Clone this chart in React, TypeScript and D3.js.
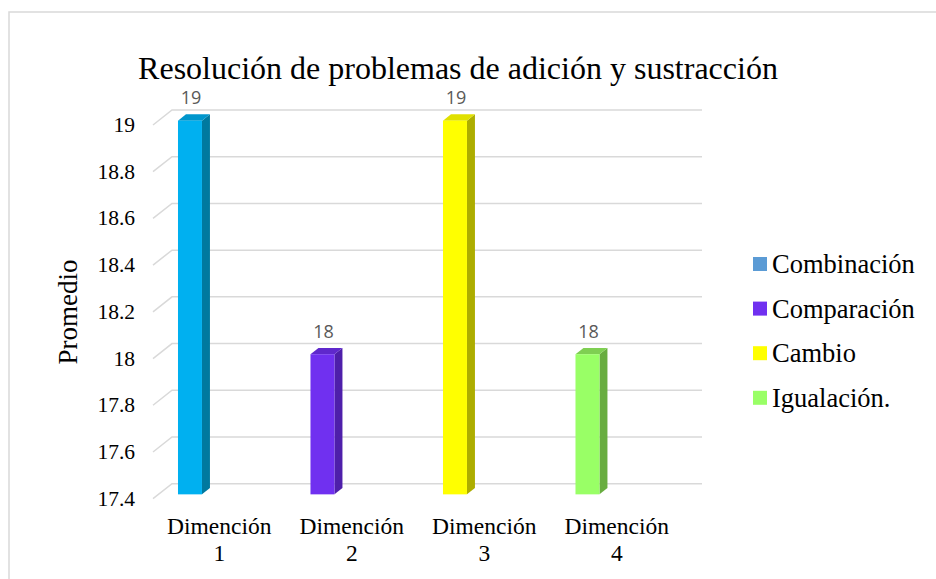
import React from "react";
import * as d3 from "d3";

const categories = ["Dimención 1", "Dimención 2", "Dimención 3", "Dimención 4"];
const values = [19, 18, 19, 18];
const seriesNames = ["Combinación", "Comparación", "Cambio", "Igualación."];
const legendColors = ["#5B9BD5", "#7030F0", "#FFFF00", "#99FF66"];
const barFront = ["#00B0F0", "#7030F0", "#FFFF00", "#99FF66"];
const barSide = ["#00799F", "#4E1FAA", "#ADAD00", "#68AD40"];
const barTop = ["#0096CC", "#5F28CC", "#E0E000", "#7FCF52"];
const yTicks = [17.4, 17.6, 17.8, 18, 18.2, 18.4, 18.6, 18.8, 19];

const W = 936;
const H = 579;
const DX = 19;
const DY = -15;
const F0 = 0.29;
const F1 = 0.71;

export default function App() {
  const y = d3.scaleLinear().domain([17.4, 19]).range([498.7, 125]);
  const x = d3.scaleBand<string>().domain(categories).range([153, 683]).padding(0);
  const bw = x.bandwidth();
  const serif = "'Liberation Serif', 'Times New Roman', serif";

  return (
    <svg width={W} height={H} style={{ position: "absolute", left: 0, top: 0, background: "#fff" }}>
      <rect x={9} y={12} width={W} height={H} fill="#fff" stroke="#D9D9D9" strokeWidth={1.5} />
      <text x={458} y={79} textAnchor="middle" fontFamily={serif} fontSize={32} fill="#000">
        Resolución de problemas de adición y sustracción
      </text>
      {yTicks.map((t) => {
        const yy = y(t);
        const x0 = x.range()[0];
        const x1 = x.range()[1];
        return (
          <g key={t}>
            <path
              d={`M${x0},${yy}L${x0 + DX},${yy + DY}L${x1 + DX},${yy + DY}`}
              fill="none"
              stroke="#D9D9D9"
              strokeWidth={1.5}
            />
            <text x={135} y={yy} textAnchor="end" dominantBaseline="central" fontFamily={serif} fontSize={21.5} fill="#000">
              {d3.format("")(t)}
            </text>
          </g>
        );
      })}
      {categories.map((c, i) => {
        const v = values[i];
        const fx0 = (x(c) as number) + bw * 0.147 + F0 * DX;
        const fw = bw * 0.181;
        const fyTop = y(v) + F0 * DY;
        const fyBot = y(17.4) + F0 * DY;
        const ddx = (F1 - F0) * DX;
        const ddy = (F1 - F0) * DY;
        return (
          <g key={c}>
            <path
              d={`M${fx0 + fw},${fyTop}L${fx0 + fw + ddx},${fyTop + ddy}L${fx0 + fw + ddx},${fyBot + ddy}L${fx0 + fw},${fyBot}Z`}
              fill={barSide[i]}
            />
            <path
              d={`M${fx0},${fyTop}L${fx0 + ddx},${fyTop + ddy}L${fx0 + fw + ddx},${fyTop + ddy}L${fx0 + fw},${fyTop}Z`}
              fill={barTop[i]}
            />
            <rect x={fx0} y={fyTop} width={fw} height={fyBot - fyTop} fill={barFront[i]} />
            <text
              x={fx0 + fw / 2 + 1}
              y={fyTop + ddy - 10}
              textAnchor="middle"
              fontFamily="'Open Sans', sans-serif"
              fontSize={18}
              fill="#595959"
            >
              {v}
            </text>
            <text textAnchor="middle" fontFamily={serif} fontSize={23.5} fill="#000">
              <tspan x={(x(c) as number) + bw / 2} y={534}>{c.split(" ")[0]}</tspan>
              <tspan x={(x(c) as number) + bw / 2} y={561}>{c.split(" ")[1]}</tspan>
            </text>
          </g>
        );
      })}
      <text
        transform="translate(77,312) rotate(-90)"
        textAnchor="middle"
        fontFamily={serif}
        fontSize={27}
        fill="#000"
      >
        Promedio
      </text>
      {seriesNames.map((s, i) => {
        const cy = 264 + i * 44.6;
        return (
          <g key={s}>
            <rect x={753} y={cy - 7} width={14} height={14} fill={legendColors[i]} />
            <text x={772} y={cy} dominantBaseline="central" fontFamily={serif} fontSize={26.5} fill="#000">
              {s}
            </text>
          </g>
        );
      })}
    </svg>
  );
}
